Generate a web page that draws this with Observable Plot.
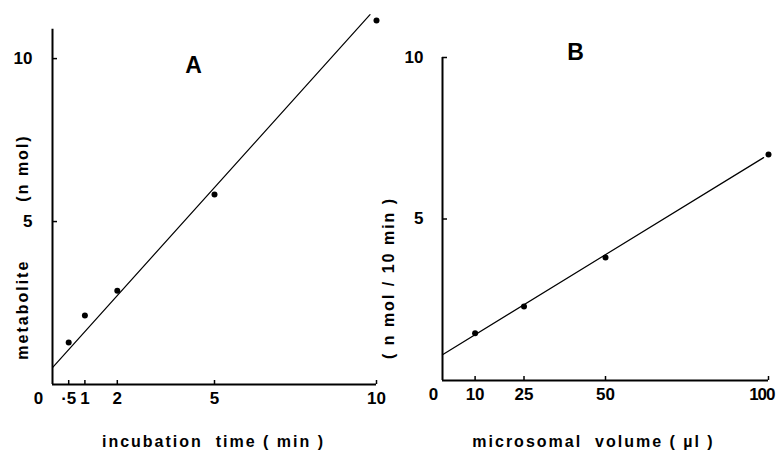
<!DOCTYPE html>
<html><head><meta charset="utf-8">
<script src="https://cdn.jsdelivr.net/npm/d3@7"></script>
<script src="https://cdn.jsdelivr.net/npm/@observablehq/plot@0.6"></script>
<style>
body{margin:0;background:#fff}
#wrap{position:relative;width:776px;height:453px;overflow:hidden;background:#fff}
#wrap svg{position:absolute;top:0;overflow:visible;background:none}
</style></head><body><div id="wrap"></div>
<script>
// Panel A: metabolite vs incubation time
const timeA = [0.5, 1, 2, 5, 10];
const metaboliteA = [1.29, 2.12, 2.88, 5.83, 11.17];
const fitTimeA = [0, 9.8];
const fitMetA = [0.52, 11.35];
const ticksXA = [0.5, 1, 2, 5, 10];
const tickLabelsXA = ["·5", "1", "2", "5", "10"];
const ticksYA = [5, 10];
const xLabelA = "incubation  time ( min )";
const yLabelA = "metabolite         (n mol)";

// Panel B: rate vs microsomal volume
const volumeB = [10, 25, 50, 100];
const rateB = [1.46, 2.29, 3.81, 7.0];
const fitVolumeB = [0, 98.5];
const fitRateB = [0.80, 6.9];
const ticksXB = [10, 25, 50, 100];
const ticksYB = [5, 10];
const xLabelB = "microsomal  volume ( µl )";
const yLabelB = "( n mol / 10 min )";

const FONT = "font-family:'Liberation Sans',Arial,sans-serif;font-weight:bold;font-size:15px;overflow:visible;background:none;";
const axisText = {fontSize: 17, fontWeight: "bold"};

function panel(o) {
  const pts = o.xs.map((x, i) => ({x, y: o.ys[i]}));
  const fit = o.fx.map((x, i) => ({x, y: o.fy[i]}));
  return Plot.plot({
    width: o.width, height: 453,
    marginLeft: o.ml, marginRight: o.mr, marginTop: o.mt, marginBottom: o.mb,
    style: FONT,
    x: {domain: o.xDomain, label: null},
    y: {domain: o.yDomain, label: null},
    marks: [
      Plot.ruleX([0], {y1: 0, y2: o.yTop, strokeWidth: 2}),
      Plot.ruleY([0], {x1: 0, x2: o.xDomain[1], strokeWidth: 2}),
      Plot.axisX({ticks: o.ticksX, tickFormat: d => o.tickLabelsX[o.ticksX.indexOf(d)], tickSize: -4, tickPadding: 11, strokeWidth: 1.5, ...axisText}),
      Plot.axisY({ticks: o.ticksY, tickFormat: d => String(d), tickSize: -5, tickPadding: o.yPad, strokeWidth: 1.5, ...axisText}),
      Plot.text([0], {x: d => d, y: () => 0, text: () => "0", dx: o.zeroDx, dy: 14, ...axisText}),
      Plot.line(fit, {x: "x", y: "y", stroke: "black", strokeWidth: 1.2}),
      Plot.dot(pts, {x: "x", y: "y", r: 3, fill: "black"}),
      Plot.text([o.title], {frameAnchor: "top-left", lineAnchor: "middle", textAnchor: "middle", dx: o.titleDx, dy: o.titleDy, fontSize: 23, fontWeight: 900}),
      Plot.text([o.xLabel], {frameAnchor: "bottom", lineAnchor: "middle", textAnchor: "middle", dx: o.xlDx, dy: o.xlDy, fontSize: 16, fontWeight: "bold"}),
      Plot.text([o.yLabel], {frameAnchor: "left", lineAnchor: "middle", textAnchor: "middle", rotate: -90, dx: o.ylDx, dy: o.ylDy, fontSize: 16, fontWeight: "bold"})
    ]
  });
}

const svgA = panel({
  width: 380, ml: 52, mr: 4, mt: 19, mb: 69,
  xDomain: [0, 10], yDomain: [0, 11.2], yTop: 10.9,
  xs: timeA, ys: metaboliteA, fx: fitTimeA, fy: fitMetA,
  ticksX: ticksXA, tickLabelsX: tickLabelsXA, ticksY: ticksYA, yPad: 25, zeroDx: -14,
  title: "A", titleDx: 141, titleDy: 46,
  xLabel: xLabelA, xlDx: -1, xlDy: 57,
  yLabel: yLabelA, ylDx: -30, ylDy: 45
});
const svgB = panel({
  width: 396, ml: 62, mr: 8, mt: 57, mb: 73,
  xDomain: [0, 100], yDomain: [0, 10], yTop: 10,
  xs: volumeB, ys: rateB, fx: fitVolumeB, fy: fitRateB,
  ticksX: ticksXB, tickLabelsX: ticksXB.map(String), ticksY: ticksYB, yPad: 24, zeroDx: -9,
  title: "B", titleDx: 133, titleDy: -5,
  xLabel: xLabelB, xlDx: -12, xlDy: 61,
  yLabel: yLabelB, ylDx: -54, ylDy: 59
});
svgA.style.left = "0px";
svgB.style.left = "380px";
const wrap = document.getElementById("wrap");
wrap.appendChild(svgA);
wrap.appendChild(svgB);
const titles = [xLabelA, yLabelA, xLabelB, yLabelB];
for (const s of [svgA, svgB]) {
  d3.select(s).selectAll("text")
    .filter(function() { return titles.includes(this.textContent); })
    .style("letter-spacing", "2px").style("white-space", "pre");
}
// keep the right-most tick label "100" inside the picture, as in the reference
d3.select(svgB).selectAll("text")
  .filter(function() { return this.textContent === String(ticksXB[ticksXB.length - 1]); })
  .attr("text-anchor", "end").attr("dx", 6).style("letter-spacing", "-1px");
</script>
</body></html>
